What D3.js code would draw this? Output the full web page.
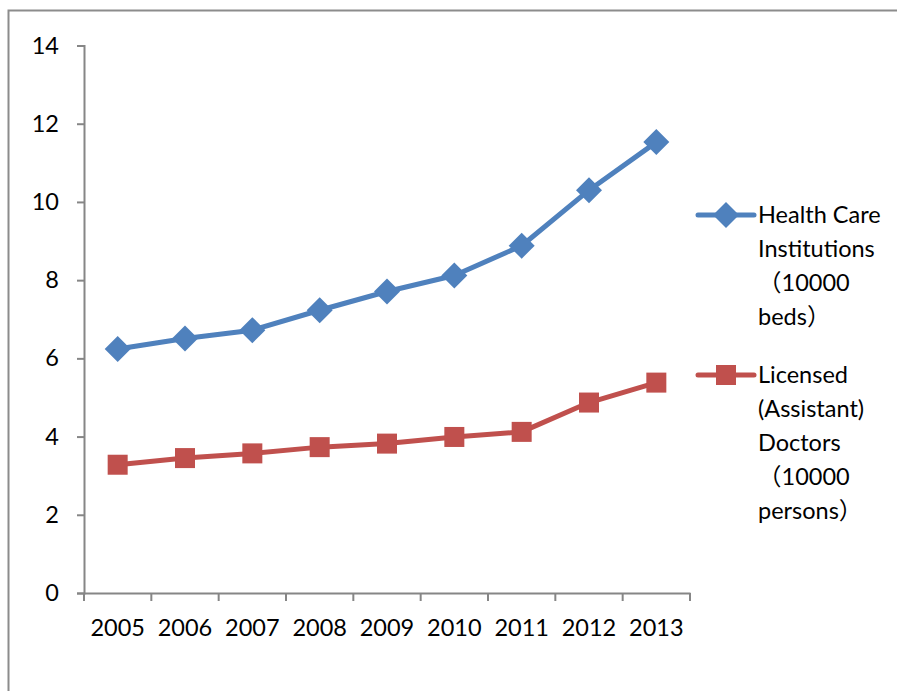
<!DOCTYPE html>
<html>
<head>
<meta charset="utf-8">
<script src="https://cdn.jsdelivr.net/npm/d3@7"></script>
<style>
  body { margin: 0; background: #fff; }
  text { font-family: Lato, "Noto Sans CJK SC", sans-serif; fill: #000; }
</style>
</head>
<body>
<script>
// chart data
const years = ["2005", "2006", "2007", "2008", "2009", "2010", "2011", "2012", "2013"];
const beds = [6.24, 6.51, 6.72, 7.23, 7.71, 8.12, 8.88, 10.3, 11.53];
const doctors = [3.28, 3.45, 3.57, 3.73, 3.82, 3.99, 4.12, 4.87, 5.38];
const yTicks = [0, 2, 4, 6, 8, 10, 12, 14];
const legendBeds = ["Health Care", "Institutions", "（10000", "beds）"];
const legendDoctors = ["Licensed", "(Assistant)", "Doctors", "（10000", "persons）"];

const width = 897;
const height = 691;
const fontSize = "23.5px";

let svg = d3.select("body")
    .append("svg")
    .attr("width", width)
    .attr("height", height);

// outer frame
svg.append("rect")
    .attr("x", 8.5)
    .attr("y", 10.5)
    .attr("width", 1000)
    .attr("height", 1000)
    .attr("fill", "none")
    .attr("stroke", "#8c8c8c")
    .attr("stroke-width", 2);

let margin = { left: 84, right: 690, top: 45.5, bottom: 593 };

let xScale = d3.scaleBand()
    .domain(years)
    .range([margin.left, margin.right]);

let yScale = d3.scaleLinear()
    .domain([0, 14])
    .range([margin.bottom, margin.top]);

const axisColor = "#868686";

// y axis
let leftAxis = svg.append("g")
    .attr("transform", `translate(${margin.left},0)`)
    .call(d3.axisLeft(yScale).tickValues(yTicks).tickSize(7).tickPadding(18).tickFormat(d3.format("d")));
leftAxis.select(".domain").attr("stroke", axisColor).attr("stroke-width", 2);
leftAxis.selectAll(".tick line").attr("stroke", axisColor).attr("stroke-width", 2);
leftAxis.selectAll("text").style("font-size", fontSize).attr("fill", "#000");

// x axis with ticks at band edges
let bottomAxis = svg.append("g")
    .attr("transform", `translate(0,${margin.bottom})`)
    .call(d3.axisBottom(xScale).tickSize(0).tickPadding(26));
bottomAxis.select(".domain").attr("stroke", axisColor).attr("stroke-width", 2);
bottomAxis.selectAll("text").style("font-size", fontSize).attr("fill", "#000");

let edges = years.map(d => xScale(d)).concat([xScale.range()[1]]);
bottomAxis.selectAll("line.edge")
    .data(edges)
    .join("line")
    .attr("class", "edge")
    .attr("x1", d => d)
    .attr("x2", d => d)
    .attr("y1", 0)
    .attr("y2", 8)
    .attr("stroke", axisColor)
    .attr("stroke-width", 2);

let cx = d => xScale(d) + xScale.bandwidth() / 2;

let line = d3.line()
    .x(d => cx(d.year))
    .y(d => yScale(d.value));

let series = [
    { name: "beds", color: "#4F81BD", shape: "diamond", values: years.map((y, i) => ({ year: y, value: beds[i] })) },
    { name: "doctors", color: "#C0504D", shape: "square", values: years.map((y, i) => ({ year: y, value: doctors[i] })) }
];

function drawMarker(g, shape, color) {
    if (shape === "diamond") {
        g.append("path")
            .attr("d", "M0,-13L13,0L0,13L-13,0Z")
            .attr("fill", color);
    } else {
        g.append("rect")
            .attr("x", -10)
            .attr("y", -10)
            .attr("width", 20)
            .attr("height", 20)
            .attr("fill", color);
    }
}

series.forEach(s => {
    svg.append("path")
        .datum(s.values)
        .attr("d", line)
        .attr("fill", "none")
        .attr("stroke", s.color)
        .attr("stroke-width", 5)
        .attr("stroke-linejoin", "round")
        .attr("stroke-linecap", "round");

    s.values.forEach(d => {
        let g = svg.append("g")
            .attr("transform", `translate(${cx(d.year)},${yScale(d.value)})`);
        drawMarker(g, s.shape, s.color);
    });
});

// legend
let legendItems = [
    { s: series[0], lines: legendBeds, y: 215 },
    { s: series[1], lines: legendDoctors, y: 375 }
];

legendItems.forEach(item => {
    let g = svg.append("g").attr("transform", `translate(698,${item.y})`);
    g.append("line")
        .attr("x1", 0)
        .attr("x2", 56)
        .attr("stroke", item.s.color)
        .attr("stroke-width", 5)
        .attr("stroke-linecap", "round");
    let m = g.append("g").attr("transform", "translate(28,0)");
    drawMarker(m, item.s.shape, item.s.color);

    g.selectAll("text")
        .data(item.lines)
        .join("text")
        .attr("x", 60)
        .attr("y", (d, i) => i * 34 + 8)
        .style("font-size", fontSize)
        .text(d => d);
});
</script>
</body>
</html>
